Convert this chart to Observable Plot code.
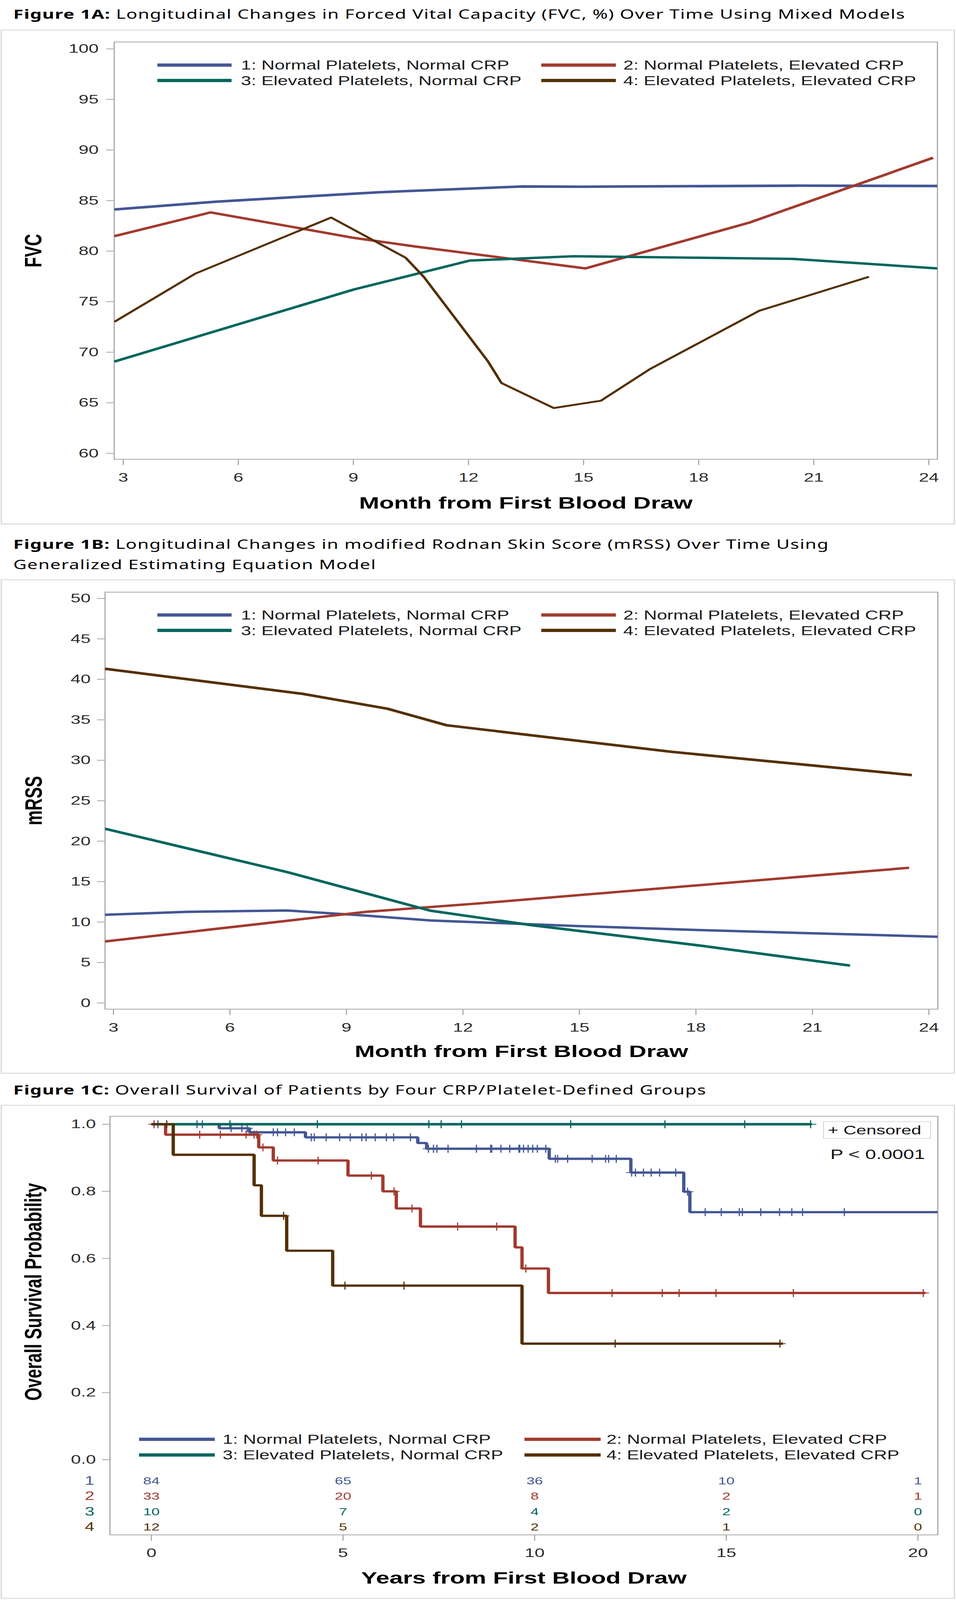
<!DOCTYPE html>
<html>
<head>
<meta charset="utf-8">
<script src="https://cdn.jsdelivr.net/npm/d3@7"></script>
<script src="https://cdn.jsdelivr.net/npm/@observablehq/plot@0.6"></script>
<style>
  html, body { margin: 0; padding: 0; background: #fff; overflow: hidden; }
  #page { position: absolute; left: 0; top: 0; width: 2448px; height: 5924px; transform-origin: 0 0; font-family: "Liberation Sans", Arial, sans-serif; background: #fff; }
  .title { position: absolute; left: 34px; font-family: "Noto Sans", sans-serif; font-size: 47px; letter-spacing: 1.6px; line-height: 75px; color: #000; white-space: nowrap; }
  .title b { font-weight: 700; }
  .box { position: absolute; left: 2px; width: 2443px; box-sizing: border-box; border: 3px solid #d9d9d9; box-shadow: 0 1px 3px rgba(0,0,0,0.12); background: #fff; }
  .plot { position: absolute; left: 0; width: 2448px; }
  .sw { position: absolute; height: 12px; }
  .lt { position: absolute; font-size: 47px; line-height: 47px; color: #1a1a1a; white-space: nowrap; }
  .cens { position: absolute; box-sizing: border-box; border: 2px solid #cfcfcf; background: #fff; font-size: 46px; color: #111; display: flex; align-items: center; padding-left: 10px; white-space: nowrap; }
</style>
</head>
<body>
<div id="page">
<div class="title" style="top:14px"><b>Figure 1A:</b> Longitudinal Changes in Forced Vital Capacity (FVC, %) Over Time Using Mixed Models</div>
<div class="box" style="top:110px;height:1831px"></div>
<div class="title" style="top:1977px"><b>Figure 1B:</b> Longitudinal Changes in modified Rodnan Skin Score (mRSS) Over Time Using<br>Generalized Estimating Equation Model</div>
<div class="box" style="top:2145px;height:1830px"></div>
<div class="title" style="top:3998px"><b>Figure 1C:</b> Overall Survival of Patients by Four CRP/Platelet-Defined Groups</div>
<div class="box" style="top:4091px;height:1828px"></div>
</div>

<script>
// ---------- shared ----------
const groupNames = [
  "1: Normal Platelets, Normal CRP",
  "2: Normal Platelets, Elevated CRP",
  "3: Elevated Platelets, Normal CRP",
  "4: Elevated Platelets, Elevated CRP"
];
const groupColors = ["#445694", "#A23A2E", "#01665E", "#543005"];

// ---------- Figure 1A: FVC (%) by month ----------
const fvcMonths1 = [2.77, 5.43, 9.65, 13.38, 15.0, 20.61, 24.22];
const fvcValues1 = [84.12, 84.89, 85.82, 86.39, 86.37, 86.47, 86.44];
const fvcMonths2 = [2.77, 5.28, 9.01, 10.6, 15.05, 19.34, 24.11];
const fvcValues2 = [81.48, 83.83, 81.31, 80.46, 78.29, 82.84, 89.23];
const fvcMonths3 = [2.77, 9.01, 12.03, 14.73, 20.45, 24.22];
const fvcValues3 = [69.07, 76.2, 79.06, 79.49, 79.23, 78.29];
const fvcMonths4 = [2.77, 4.88, 8.42, 10.36, 10.84, 12.51, 12.86, 14.22, 15.45, 16.72, 19.58, 22.44];
const fvcValues4 = [73.0, 77.77, 83.32, 79.35, 77.43, 69.08, 66.95, 64.48, 65.2, 68.31, 74.1, 77.46];
const fvcMonthTicks = [3, 6, 9, 12, 15, 18, 21, 24];
const fvcTicks = [60, 65, 70, 75, 80, 85, 90, 95, 100];

// ---------- Figure 1B: mRSS by month ----------
const mrssMonths1 = [2.78, 4.87, 7.47, 9.5, 11.16, 15.0, 18.15, 24.23];
const mrssValues1 = [10.9, 11.26, 11.43, 10.8, 10.2, 9.5, 9.0, 8.18];
const mrssMonths2 = [2.78, 9.5, 12.34, 23.49];
const mrssValues2 = [7.6, 11.26, 12.28, 16.71];
const mrssMonths3 = [2.78, 7.47, 11.16, 13.75, 18.15, 21.97];
const mrssValues3 = [21.54, 16.18, 11.41, 9.62, 7.07, 4.62];
const mrssMonths4 = [2.78, 7.86, 10.06, 11.58, 17.36, 23.56];
const mrssValues4 = [41.31, 38.22, 36.37, 34.33, 31.05, 28.17];
const mrssMonthTicks = [3, 6, 9, 12, 15, 18, 21, 24];
const mrssTicks = [0, 5, 10, 15, 20, 25, 30, 35, 40, 45, 50];

// ---------- Figure 1C: Kaplan-Meier ----------
const kmTimes1 = [0, 1.77, 2.56, 4.02, 6.95, 7.18, 10.38, 12.51, 13.89, 14.05, 20.52];
const kmSurv1  = [1, 0.988, 0.976, 0.961, 0.944, 0.927, 0.897, 0.856, 0.799, 0.738, 0.738];
const kmCens1  = [0.17, 1.19, 1.33, 2.08, 2.36, 2.50, 3.18, 3.29, 3.50, 3.73, 4.17, 4.25, 4.56, 4.91,
                  5.19, 5.49, 5.60, 5.84, 6.13, 6.32, 6.76, 7.23, 7.36, 7.45, 7.74, 8.48, 8.85, 8.88,
                  9.12, 9.35, 9.59, 9.61, 9.71, 9.83, 9.95, 10.07, 10.29, 10.54, 10.60, 10.86, 11.50,
                  11.85, 11.93, 12.13, 12.53, 12.63, 12.84, 13.04, 13.26, 13.68, 13.99, 14.45, 14.87,
                  15.34, 15.42, 15.90, 16.39, 16.71, 16.99, 18.08];
const kmTimes2 = [0, 0.37, 2.80, 3.18, 5.13, 6.04, 6.39, 7.02, 9.49, 9.67, 10.36, 20.2];
const kmSurv2  = [1, 0.969, 0.931, 0.892, 0.847, 0.800, 0.749, 0.695, 0.633, 0.570, 0.497, 0.497];
const kmCens2  = [0.07, 1.26, 1.80, 2.47, 2.68, 2.75, 2.91, 3.29, 4.35, 5.74, 6.33, 6.80, 7.99, 9.01,
                  9.77, 12.02, 13.33, 13.77, 14.73, 16.75, 20.14];
const kmTimes3 = [0, 17.23];
const kmSurv3  = [1, 1];
const kmCens3  = [2.05, 4.33, 7.24, 7.56, 8.09, 10.94, 13.40, 15.48, 17.20];
const kmTimes4 = [0, 0.57, 2.68, 2.87, 3.53, 4.73, 9.67, 16.48];
const kmSurv4  = [1, 0.909, 0.818, 0.727, 0.623, 0.519, 0.346, 0.346];
const kmCens4  = [0.40, 3.45, 5.05, 6.59, 12.10, 16.40];
const riskYears = [0, 5, 10, 15, 20];
const atRisk1 = [84, 65, 36, 10, 1];
const atRisk2 = [33, 20, 8, 2, 1];
const atRisk3 = [10, 7, 4, 2, 0];
const atRisk4 = [12, 5, 2, 1, 0];
const survTicks = [0, 0.2, 0.4, 0.6, 0.8, 1.0];
const yearTicks = [0, 5, 10, 15, 20];

// ---------- helpers ----------
const PAGE_W = 2448, PAGE_H = 5924;
const page = document.getElementById("page");
const FONT = "Liberation Sans, Arial, sans-serif";
const pts = (xs, ys) => xs.map((x, i) => ({x, y: ys[i]}));

// the browser viewport may be shorter than the requested page: fit the page into it
function fitPage() {
  const vh = window.innerHeight || PAGE_H;
  const sy = vh < PAGE_H ? vh / PAGE_H : 1;
  page.style.transform = sy < 1 ? `scale(1, ${sy})` : "none";
  document.body.style.height = (PAGE_H * sy) + "px";
}
fitPage();
window.addEventListener("resize", fitPage);

function addHolder(top, node) {
  const d = document.createElement("div");
  d.className = "plot";
  d.style.top = top + "px";
  d.append(node);
  page.append(d);
}

function addLegend(rowYs, cols) {
  groupNames.forEach((name, i) => {
    const r = Math.floor(i / 2), c = i % 2;
    const sw = document.createElement("div");
    sw.className = "sw";
    sw.style.left = cols[c][0] + "px";
    sw.style.width = (cols[c][1] - cols[c][0]) + "px";
    sw.style.top = (rowYs[r] - 6) + "px";
    sw.style.background = groupColors[i];
    page.append(sw);
    const t = document.createElement("div");
    t.className = "lt";
    t.style.left = cols[c][2] + "px";
    t.style.top = (rowYs[r] - 23) + "px";
    t.textContent = name;
    page.append(t);
  });
}

function axesMarks({xTicks, yTicks, yFormat, yPad, xLabel, xLabelDy, yLabel, yLabelDx, yLabelDy}) {
  return [
    Plot.frame({stroke: "#a9a9a9", strokeWidth: 3}),
    Plot.axisY({ticks: yTicks, tickFormat: yFormat, tickSize: 20, tickPadding: yPad, fontSize: 46,
                stroke: "#a9a9a9", strokeWidth: 3, fill: "#2b2b2b", label: null}),
    Plot.axisX({ticks: xTicks, tickSize: 22, tickPadding: 28, fontSize: 46,
                stroke: "#a9a9a9", strokeWidth: 3, fill: "#2b2b2b", label: null}),
    Plot.text([xLabel], {text: d => d, frameAnchor: "bottom", dy: xLabelDy, lineAnchor: "middle",
                         fontSize: 62, fontWeight: "bold", fill: "#000"}),
    Plot.text([yLabel], {text: d => d, frameAnchor: "left", dx: yLabelDx, dy: yLabelDy || 0, rotate: -90,
                         lineAnchor: "middle", textAnchor: "middle", fontSize: 62, fontWeight: "bold", fill: "#000"})
  ];
}

// ---------- Figure 1A ----------
{
  const series = [pts(fvcMonths1, fvcValues1), pts(fvcMonths2, fvcValues2), pts(fvcMonths3, fvcValues3), pts(fvcMonths4, fvcValues4)];
  const widths = [9.5, 9, 9, 7];
  addHolder(110, Plot.plot({
    width: 2448, height: 1831,
    marginLeft: 292, marginRight: 48, marginTop: 45, marginBottom: 241,
    x: {domain: [2.766, 24.224]},
    y: {domain: [59.41, 100.68]},
    style: {background: "transparent", maxWidth: "none", overflow: "visible", fontFamily: FONT},
    marks: [
      ...axesMarks({xTicks: fvcMonthTicks, yTicks: fvcTicks, yPad: 20,
                    xLabel: "Month from First Blood Draw", xLabelDy: 162, yLabel: "FVC", yLabelDx: -206}),
      ...series.map((s, i) => Plot.line(s, {x: "x", y: "y", stroke: groupColors[i], strokeWidth: widths[i],
                                             strokeLinecap: "butt", clip: true}))
    ]
  }));
  addLegend([241, 298], [[403, 593, 617], [1386, 1577, 1596]]);
}

// ---------- Figure 1B ----------
{
  const series = [pts(mrssMonths1, mrssValues1), pts(mrssMonths2, mrssValues2), pts(mrssMonths3, mrssValues3), pts(mrssMonths4, mrssValues4)];
  const widths = [9, 9, 9.5, 9.5];
  addHolder(2145, Plot.plot({
    width: 2448, height: 1830,
    marginLeft: 268.5, marginRight: 47, marginTop: 47, marginBottom: 239,
    x: {domain: [2.784, 24.23]},
    y: {domain: [-0.77, 50.78]},
    style: {background: "transparent", maxWidth: "none", overflow: "visible", fontFamily: FONT},
    marks: [
      ...axesMarks({xTicks: mrssMonthTicks, yTicks: mrssTicks, yPad: 17,
                    xLabel: "Month from First Blood Draw", xLabelDy: 157, yLabel: "mRSS", yLabelDx: -182}),
      ...series.map((s, i) => Plot.line(s, {x: "x", y: "y", stroke: groupColors[i], strokeWidth: widths[i],
                                             strokeLinecap: "butt", clip: true}))
    ]
  }));
  addLegend([2277, 2334], [[403, 593, 617], [1386, 1577, 1596]]);
}

// ---------- Figure 1C ----------
{
  const times = [kmTimes1, kmTimes2, kmTimes3, kmTimes4];
  const survs = [kmSurv1, kmSurv2, kmSurv3, kmSurv4];
  const cens = [kmCens1, kmCens2, kmCens3, kmCens4];
  const risks = [atRisk1, atRisk2, atRisk3, atRisk4];
  const survAt = (g, t) => {
    let s = survs[g][0];
    times[g].forEach((tt, i) => { if (tt <= t) s = survs[g][i]; });
    return s;
  };
  const rowDy = [-199.6, -143.1, -85.4, -28.9];
  const marks = [];
  for (let g = 0; g < 4; g++) {
    marks.push(Plot.line(pts(times[g], survs[g]), {x: "x", y: "y", curve: "step-after", stroke: groupColors[g],
                                                 strokeWidth: g === 2 ? 9.5 : 8.5, strokeLinejoin: "miter", strokeLinecap: "butt", clip: true}));
    marks.push(Plot.dot(cens[g].map(t => ({x: t, y: survAt(g, t)})), {x: "x", y: "y", symbol: "plus", r: 9.5,
                                                 stroke: groupColors[g], strokeWidth: 3, clip: true}));
  }
  for (let g = 0; g < 4; g++) {
    marks.push(Plot.text(riskYears.map((yr, i) => ({x: yr, n: risks[g][i]})), {x: "x", text: d => String(d.n),
               frameAnchor: "bottom", dy: rowDy[g], lineAnchor: "middle", fontSize: 38, fill: groupColors[g]}));
    marks.push(Plot.text([String(g + 1)], {text: d => d, frameAnchor: "bottom-left", dx: -52, dy: rowDy[g],
               lineAnchor: "middle", textAnchor: "middle", fontSize: 44, fill: groupColors[g]}));
  }
  marks.push(Plot.text(["P < 0.0001"], {text: d => d, frameAnchor: "top-right", dx: -33, dy: 142,
             textAnchor: "end", lineAnchor: "middle", fontSize: 50, fill: "#111"}));
  addHolder(4091, Plot.plot({
    width: 2448, height: 1828,
    marginLeft: 281, marginRight: 47, marginTop: 41.6, marginBottom: 236.6,
    x: {domain: [-1.082, 20.52]},
    y: {domain: [-0.2241, 1.0237]},
    style: {background: "transparent", maxWidth: "none", overflow: "visible", fontFamily: FONT},
    marks: [
      ...axesMarks({xTicks: yearTicks, yTicks: survTicks, yFormat: d3.format(".1f"), yPad: 16,
                    xLabel: "Years from First Blood Draw", xLabelDy: 160,
                    yLabel: "Overall Survival Probability", yLabelDx: -195, yLabelDy: -125}),
      ...marks
    ]
  }));
  addLegend([5329, 5387], [[356, 550, 570], [1343, 1538, 1553]]);
  const cb = document.createElement("div");
  cb.className = "cens";
  cb.style.left = "2108px"; cb.style.top = "4152px"; cb.style.width = "276px"; cb.style.height = "64px";
  cb.textContent = "+ Censored";
  page.append(cb);
}
</script>
</body>
</html>
